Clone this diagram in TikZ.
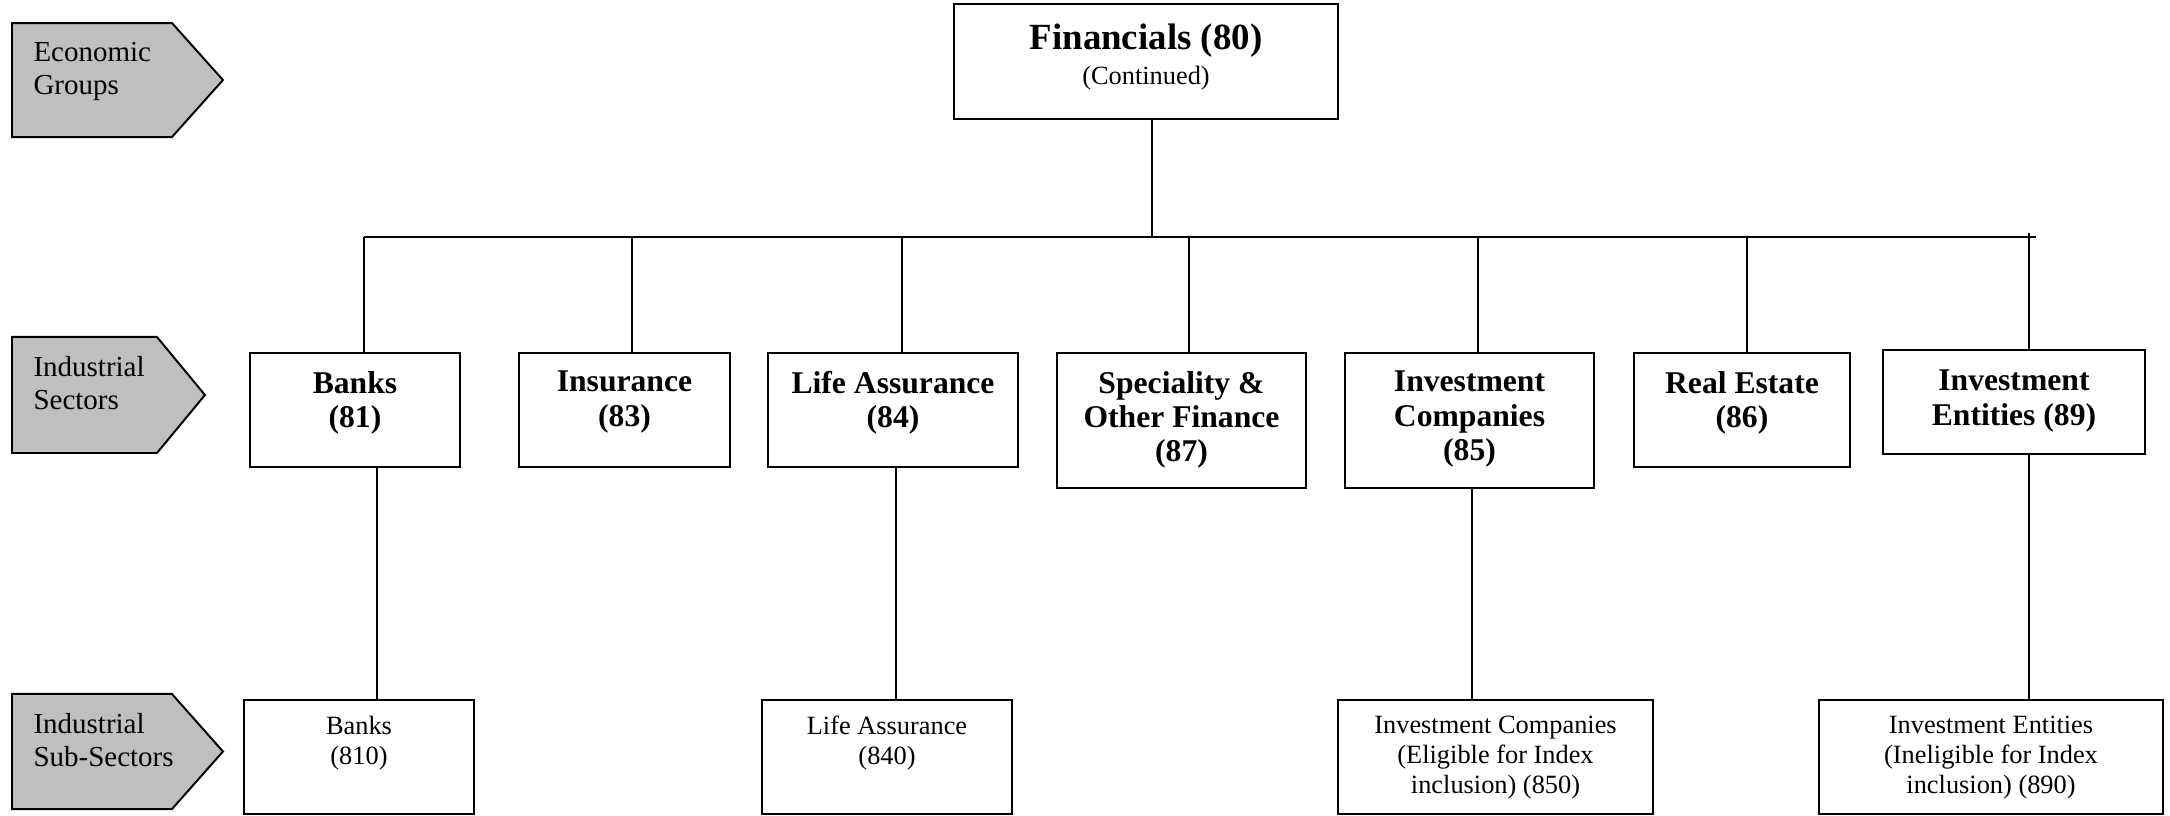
\documentclass[tikz,border=0pt]{standalone}
\usepackage{fontspec}
\setmainfont{Liberation Serif}
\tikzset{
  catbox/.style={draw, line width=0.75pt, inner sep=0pt, anchor=north west},
  link/.style={line width=0.75pt},
  tagshape/.style={draw, line width=0.75pt, fill=black!25},
  tagtext/.style={font=\fontsize{11}{12.5}\selectfont, align=left, anchor=north west, inner sep=0pt},
  sectext/.style={font=\fontsize{12}{13}\selectfont\bfseries, align=center, anchor=north, inner sep=0pt},
  subtext/.style={font=\fontsize{10}{11.4}\selectfont, align=center, anchor=north, inner sep=0pt},
}
\begin{document}
\begin{tikzpicture}
  \useasboundingbox (0,0) rectangle (28.933,-10.867);
  % row tags
  \foreach \t/\b/\n/\p/\lbl [count=\i] in {0.307/1.827/2.293/2.973/{Economic\\Groups},
      4.493/6.04/2.093/2.733/{Industrial\\Sectors},
      9.253/10.787/2.293/2.973/{Industrial\\Sub-Sectors}}{
    \draw[tagshape] (0.16,-\t) -- (\n,-\t) -- (\p,{-(\t+\b)/2}) -- (\n,-\b) -- (0.16,-\b) -- cycle;
    \node[tagtext] (tag\i) at (0.44,-\t-0.25) {\lbl};
  }
  % economic group
  \node[catbox, minimum width=5.12cm, minimum height=1.533cm] (fin) at (12.707,-0.04) {};
  \node[font=\fontsize{10}{11}\selectfont, align=center, anchor=north, inner sep=0pt] (fintxt)
    at ([yshift=-0.27cm]fin.north) {{\fontsize{14}{16}\selectfont\bfseries Financials (80)}\\[2.5pt](Continued)};
  \coordinate (bus) at (0,-3.16);
  \draw[link] (15.36,0 |- fin.south) -- (15.36,0 |- bus);
  \draw[link] (4.853,0 |- bus) -- (27.147,0 |- bus);
  % industrial sectors
  \foreach \nm/\x/\w/\h/\lbl in {81/3.32/2.8/1.52/{Banks\\(81)},
      83/6.907/2.813/1.52/{Insurance\\(83)},
      84/10.227/3.333/1.52/{Life Assurance\\(84)},
      87/14.08/3.32/1.8/{Speciality \&\\Other Finance\\(87)},
      85/17.92/3.32/1.8/{Investment\\Companies\\(85)},
      86/21.773/2.88/1.52/{Real Estate\\(86)}}{
    \node[catbox, minimum width=\w cm, minimum height=\h cm] (sec\nm) at (\x,-4.693) {};
    \node[sectext] (txt\nm) at ([yshift=-0.25cm]sec\nm.north) {\lbl};
  }
  \node[catbox, minimum width=3.493cm, minimum height=1.387cm] (sec89) at (25.093,-4.653) {};
  \node[sectext] (txt89) at ([yshift=-0.275cm]sec89.north) {Investment\\Entities (89)};
  \foreach \x/\s in {4.853/81, 8.427/83, 12.027/84, 15.853/87, 19.707/85, 23.293/86}
    \draw[link] (\x,0 |- bus) -- (\x,0 |- sec\s.north);
  \draw[link] ([yshift=0.053cm]27.053,0 |- bus) -- (27.053,0 |- sec89.north);
  % industrial sub-sectors
  \foreach \nm/\x/\w/\lbl in {810/3.24/3.067/{Banks\\(810)},
      840/10.147/3.333/{Life Assurance\\(840)},
      850/17.827/4.2/{Investment Companies\\(Eligible for Index\\inclusion) (850)},
      890/24.24/4.587/{Investment Entities\\(Ineligible for Index\\inclusion) (890)}}{
    \node[catbox, minimum width=\w cm, minimum height=1.52cm] (sub\nm) at (\x,-9.32) {};
    \node[subtext] (txt\nm) at ([yshift=-0.22cm]sub\nm.north) {\lbl};
  }
  \foreach \x/\s/\t in {5.027/81/810, 11.947/84/840, 19.627/85/850, 27.053/89/890}
    \draw[link] (\x,0 |- sec\s.south) -- (\x,0 |- sub\t.north);
\end{tikzpicture}
\end{document}
